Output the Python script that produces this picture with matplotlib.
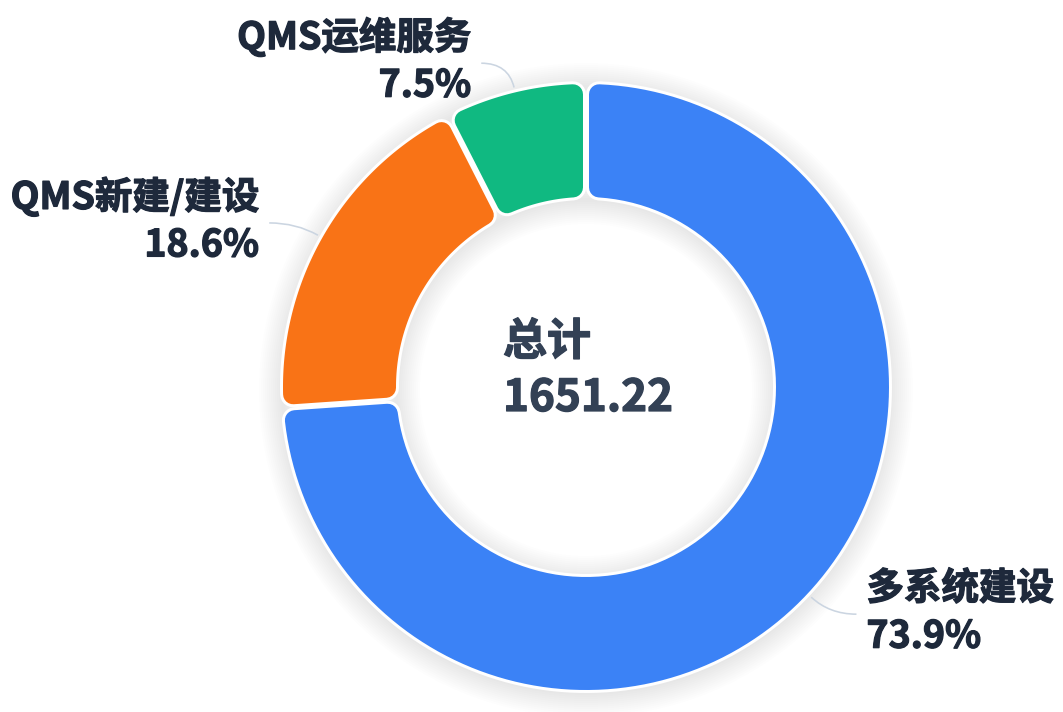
import numpy as np
import matplotlib.pyplot as plt
import matplotlib.patheffects as pe
from matplotlib.patches import Polygon, Circle, PathPatch
from matplotlib.path import Path

# fonts: CJK first, DejaVu as fallback
plt.rcParams['font.family'] = ['Noto Sans CJK SC', 'DejaVu Sans']

# data
names = ['多系统建设', 'QMS新建/建设', 'QMS运维服务']
values = [1220.25, 307.13, 123.84]
colors = ['#3B82F6', '#F97316', '#10B981']
total_label = '总计'

total = sum(values)
shares = [v / total for v in values]

# canvas in pixel units (dpi 100 -> 0.72 pt per px)
W, H = 1063, 712
PX = 72 / 100

fig = plt.figure(figsize=(W / 100, H / 100), dpi=100)
ax = fig.add_axes([0, 0, 1, 1])
ax.set_xlim(0, W)
ax.set_ylim(H, 0)
ax.axis('off')

# ring geometry
cx, cy = 586, 387
r_out, r_in = 303, 190
gap = 6      # white gap between slices
rc = 10      # corner radius
bw = 3       # white border


def pt(r, deg):
    return cx + r * np.cos(np.radians(deg)), cy - r * np.sin(np.radians(deg))


def sector(a1, a2):
    # inset sector, later stroked with round joins to get rounded corners
    d = gap / 2 + rc
    r1, r0 = r_out - rc, r_in + rc
    do = np.degrees(np.arcsin(d / r1))
    di = np.degrees(np.arcsin(d / r0))
    outer = np.linspace(a1 - do, a2 + do, 150)
    inner = np.linspace(a2 + di, a1 - di, 100)
    xy = [pt(r1, a) for a in outer] + [pt(r0, a) for a in inner]
    return np.array(xy)


# soft shadow around ring
for k in range(12):
    s = 2 + 2 * k
    for r in (r_out, r_in):
        ax.add_patch(Circle((cx, cy + 3), r, fill=False, ec='#0f172a',
                            lw=2 * s * PX, alpha=0.006, zorder=1))

# slices, clockwise from 12 o'clock
ends = 90 - 360 * np.cumsum(shares)
starts = np.concatenate([[90], ends[:-1]])

for a1, a2, col in zip(starts, ends, colors):
    poly = sector(a1, a2)
    ax.add_patch(Polygon(poly, closed=True, fc='white', ec='white',
                         lw=2 * (rc + bw) * PX, joinstyle='round', zorder=2))
    ax.add_patch(Polygon(poly, closed=True, fc=col, ec=col,
                         lw=2 * rc * PX, joinstyle='round', zorder=3))

# slightly heavier text than plain bold
lab_col = '#1E293B'
mid_col = '#334155'
lab_fx = [pe.withStroke(linewidth=0.9, foreground=lab_col)]
mid_fx = [pe.withStroke(linewidth=0.9, foreground=mid_col)]

# labels with leader lines
lab_fs = 37.5 * PX
for a1, a2, name, sh in zip(starts, ends, names, shares):
    mid = (a1 + a2) / 2
    side = 1 if np.cos(np.radians(mid)) > 0 else -1
    p0 = pt(r_out + 5, mid)
    p1 = pt(r_out + 30, mid)
    p2 = (p1[0] + side * 27, p1[1])
    path = Path([p0, p1, p2], [Path.MOVETO, Path.CURVE3, Path.CURVE3])
    ax.add_patch(PathPatch(path, fc='none', ec='#CBD5E1', lw=1.6 * PX, zorder=4))
    tx = p2[0] + side * 10
    ha = 'left' if side > 0 else 'right'
    ax.text(tx, p2[1] - 26, name, ha=ha, va='center', fontsize=lab_fs,
            fontweight='bold', color=lab_col, path_effects=lab_fx)
    ax.text(tx, p2[1] + 22, f'{sh * 100:.1f}%', ha=ha, va='center',
            fontsize=lab_fs, fontweight='bold', color=lab_col, path_effects=lab_fx)

# centre total
ax.text(cx - 83, cy - 45, total_label, ha='left', va='center', fontsize=44 * PX,
        fontweight='bold', color=mid_col, path_effects=mid_fx)
ax.text(cx - 83, cy + 11, f'{total:.2f}', ha='left', va='center', fontsize=44 * PX,
        fontweight='bold', color=mid_col, path_effects=mid_fx)

plt.savefig('out.png', dpi=100, facecolor='white')
plt.close('all')
